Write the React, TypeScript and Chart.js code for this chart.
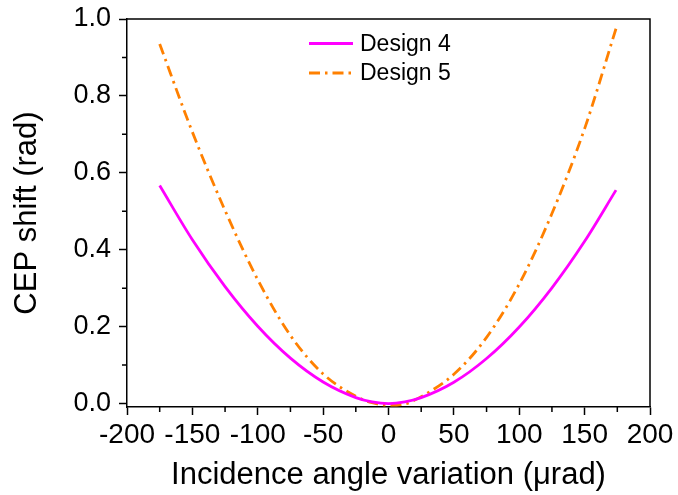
import React, { useEffect, useRef } from "react";
import { Chart, registerables } from "chart.js";

Chart.register(...registerables);

const xValues = [-175, -150, -125, -100, -75, -50, -25, -12.5, 0, 12.5, 25, 50, 75, 100, 125, 150, 174];
const design4 = [0.567, 0.426, 0.304, 0.201, 0.118, 0.056, 0.0155, 0.0043, 0.0, 0.0043, 0.0153, 0.0553, 0.117, 0.199, 0.301, 0.422, 0.555];
const design5 = [0.935, 0.706, 0.502, 0.322, 0.177, 0.077, 0.019, 0.002, -0.004, -0.001, 0.018, 0.076, 0.172, 0.311, 0.494, 0.715, 0.975];
const xTicks = [-200, -150, -100, -50, 0, 50, 100, 150, 200];
const xMinorTicks = [-175, -125, -75, -25, 25, 75, 125, 175];
const yTicks = [0, 0.2, 0.4, 0.6, 0.8, 1.0];
const yMinorTicks = [0.1, 0.3, 0.5, 0.7, 0.9];
const seriesLabels = ["Design 4", "Design 5"];

const FONT = "'Liberation Sans', Arial, sans-serif";

const framePlugin = {
  id: "frameAndMinor",
  afterDraw(chart: any) {
    const { ctx, chartArea } = chart;
    const { left, right, top, bottom } = chartArea;
    ctx.save();
    ctx.strokeStyle = "#000";
    ctx.lineWidth = 1.5;
    ctx.beginPath();
    ctx.moveTo(left, top);
    ctx.lineTo(right, top);
    ctx.lineTo(right, bottom);
    ctx.stroke();
    const xs = chart.scales.x;
    const ys = chart.scales.y;
    ctx.beginPath();
    for (const v of xMinorTicks) {
      const px = xs.getPixelForValue(v);
      ctx.moveTo(px, bottom);
      ctx.lineTo(px, bottom + 5);
    }
    for (const v of yMinorTicks) {
      const py = ys.getPixelForValue(v);
      ctx.moveTo(left, py);
      ctx.lineTo(left - 5, py);
    }
    ctx.stroke();
    // legend
    const items = chart.data.datasets;
    const lx0 = 309;
    const lx1 = 353;
    const ly = [43.5, 73];
    items.forEach((ds: any, i: number) => {
      ctx.beginPath();
      ctx.strokeStyle = ds.borderColor;
      ctx.lineWidth = ds.borderWidth;
      ctx.setLineDash(ds.borderDash || []);
      ctx.moveTo(lx0, ly[i]);
      ctx.lineTo(lx1, ly[i]);
      ctx.stroke();
      ctx.setLineDash([]);
      ctx.fillStyle = "#000";
      ctx.font = `23px ${FONT}`;
      ctx.textBaseline = "middle";
      ctx.textAlign = "left";
      ctx.fillText(ds.label, 360, ly[i] + 1);
    });
    ctx.restore();
  },
};

export default function App() {
  const ref = useRef<HTMLCanvasElement>(null);
  useEffect(() => {
    if (!ref.current) return;
    const chart = new Chart(ref.current, {
      type: "line",
      data: {
        datasets: [
          {
            label: seriesLabels[0],
            data: xValues.map((x, i) => ({ x, y: design4[i] })),
            borderColor: "#FF00FF",
            borderWidth: 2.8,
            pointRadius: 0,
            cubicInterpolationMode: "monotone",
            fill: false,
          },
          {
            label: seriesLabels[1],
            data: xValues.map((x, i) => ({ x, y: design5[i] })),
            borderColor: "#FF8000",
            borderWidth: 2.8,
            borderDash: [11, 5, 2.5, 5],
            pointRadius: 0,
            cubicInterpolationMode: "monotone",
            fill: false,
          },
        ],
      },
      options: {
        animation: false,
        responsive: false,
        layout: { padding: { top: 19, right: 28, left: 0, bottom: 0 } },
        plugins: { legend: { display: false }, tooltip: { enabled: false } },
        scales: {
          x: {
            type: "linear",
            min: -200,
            max: 200,
            afterBuildTicks: (s: any) => {
              s.ticks = xTicks.map((v) => ({ value: v }));
            },
            afterFit: (s: any) => {
              s.height = 88;
              s.paddingLeft = 0;
              s.paddingRight = 0;
            },
            grid: { drawOnChartArea: false, tickLength: 8, tickWidth: 1.5, tickColor: "#000" },
            border: { display: true, color: "#000", width: 1.5 },
            ticks: {
              color: "#000",
              font: { family: FONT, size: 28 },
              padding: 3,
              maxRotation: 0,
              autoSkip: false,
              callback: (v: any) => String(v),
            },
            title: {
              display: true,
              text: "Incidence angle variation (μrad)",
              color: "#000",
              font: { family: FONT, size: 31 },
              padding: { top: 0, bottom: 1 },
            },
          },
          y: {
            type: "linear",
            min: -0.009,
            max: 1.0,
            afterBuildTicks: (s: any) => {
              s.ticks = yTicks.map((v) => ({ value: v }));
            },
            afterFit: (s: any) => {
              s.width = 127;
              s.paddingTop = 0;
              s.paddingBottom = 0;
            },
            grid: { drawOnChartArea: false, tickLength: 8, tickWidth: 1.5, tickColor: "#000" },
            border: { display: true, color: "#000", width: 1.5 },
            ticks: {
              color: "#000",
              font: { family: FONT, size: 27 },
              padding: 8,
              autoSkip: false,
              callback: (v: any) => Number(v).toFixed(1),
            },
            title: {
              display: true,
              text: "CEP shift (rad)",
              color: "#000",
              font: { family: FONT, size: 31 },
              padding: { top: 9, bottom: 0 },
            },
          },
        },
      },
      plugins: [framePlugin],
    });
    return () => chart.destroy();
  }, []);
  return (
    <div style={{ position: "absolute", left: 0, top: 0, width: 678, height: 495, background: "#fff" }}>
      <canvas ref={ref} width={678} height={495} />
    </div>
  );
}
